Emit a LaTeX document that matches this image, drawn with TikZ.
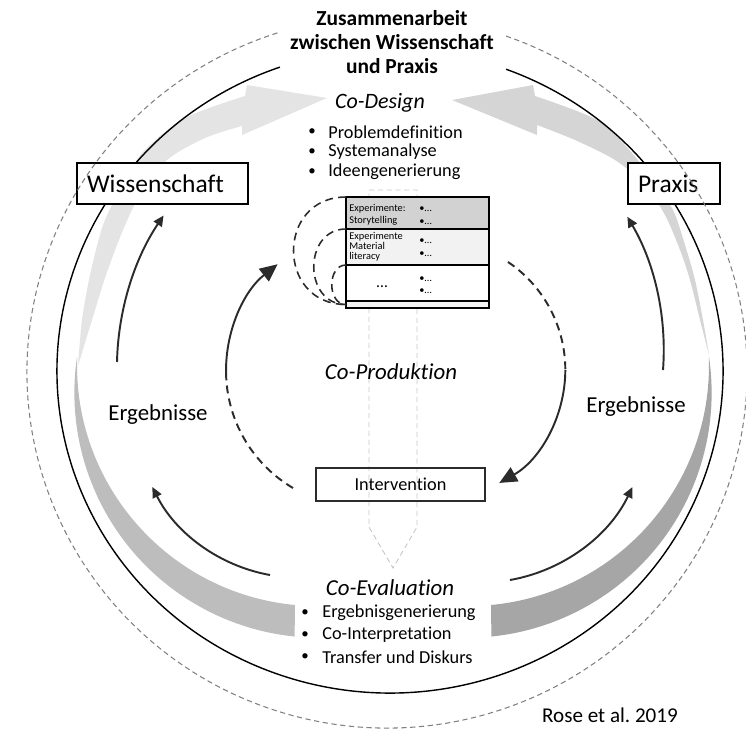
\documentclass[tikz,border=0pt]{standalone}
\usepackage{fontspec}
\setmainfont{Carlito}[Ligatures=NoCommon]
\usetikzlibrary{arrows.meta,positioning}
\frenchspacing

\definecolor{bandA}{HTML}{E4E4E4}
\definecolor{bandB}{HTML}{D5D5D5}
\definecolor{bandC}{HTML}{BDBDBD}
\definecolor{bandD}{HTML}{A6A6A6}
\definecolor{ink}{HTML}{2B2B2B}
\newcommand{\fsz}[2]{\fontsize{#1}{#2}\selectfont}

\begin{document}
\begin{tikzpicture}[x=0.02cm, y=-0.02cm,
    flow/.style={ink, line width=1.1pt, -{Triangle[length=6pt,width=5.5pt]}},
    bigflow/.style={ink, line width=1.1pt, -{Triangle[length=10pt,width=9pt]}},
    halfdash/.style={ink, line width=1.1pt, dash pattern=on 4.5pt off 3pt},
    labelbox/.style={draw, line width=0.8pt, fill=white, minimum height=0.82cm, inner sep=0pt, align=left, font=\fsz{14.5}{16}},
    rowcell/.style={draw, line width=1pt, minimum width=2.86cm, inner sep=0pt, outer sep=0pt},
    tabcell/.style={font=\fsz{5.9}{6.8}, align=left, anchor=west, inner sep=0pt},
    listitem/.style={font=\fsz{10.4}{12}, anchor=west, inner sep=0pt},
    listdot/.style={font=\fsz{8.5}{10}, inner sep=0pt},
    pencil/.style={draw=gray!45, line width=0.5pt, dash pattern=on 3pt off 2pt}]

    \useasboundingbox (0,0) rectangle (746,728);

    % grey bands
    \fill[bandA] plot[smooth] coordinates {(78,366) (82,320) (90,275) (103,225) (120,190) (142,153) (185,118) (245,96)}
        -- (247,85) -- (327,98) -- (242,135)
        -- plot[smooth] coordinates {(242,126) (205,138) (167,160) (140,195) (123,230) (106,275) (92,320) (78,366)} -- cycle;
    \fill[bandB] plot[smooth] coordinates {(709,355) (703,320) (695,280) (685,245) (673,210) (655,185) (632,153) (597,120) (535,96)}
        -- (533,85) -- (452,100) -- (537,135)
        -- plot[smooth] coordinates {(537,125) (575,140) (615,160) (645,185) (665,215) (680,250) (690,280) (700,320) (709,355)} -- cycle;
    \fill[bandC] (77,357) arc[start angle=188.4, end angle=95.8, radius=245] -- (295,605)
        arc[start angle=95.4, end angle=182, radius=240.6] -- cycle;
    \fill[bandD] (709,357) arc[start angle=-8.4, end angle=84.2, radius=245] -- (491,605)
        arc[start angle=84.6, end angle=-2, radius=240.6] -- cycle;

    \draw[pencil] (369,190) -- (417,190) -- (417,527) -- (393,568) -- (369,527) -- cycle;

    % rings
    \coordinate (ring) at (390,371);
    \draw[line width=0.8pt] (ring) ++(-69.6:333 and 322) arc[start angle=-69.6, end angle=250.7, x radius=333, y radius=322];

    \node[labelbox, minimum width=3.42cm, text width=3.02cm] (wiss) at (162.5,183.5) {Wissenschaft};
    \node[labelbox, minimum width=1.84cm, text width=1.44cm] (praxis) at (674,183.5) {Praxis};

    \coordinate (outer) at (387,372);
    \draw[gray, line width=0.6pt, dash pattern=on 3pt off 2pt] (outer) ++(-70.7:360 and 356) arc[start angle=-70.7, end angle=252.7, x radius=360, y radius=356];

    \node[font=\bfseries\fsz{12.2}{13.7}, align=center] (title) at (392,42) {Zusammenarbeit\\zwischen Wissenschaft\\und Praxis};

    % Co-Design
    \node[font=\itshape\fsz{12.5}{14}] (design) at (380,103) {Co-Design};
    \foreach \txt [count=\i] in {Problemdefinition, Systemanalyse, Ideengenerierung} {
        \node[listitem] (design\i) at (328,{112+20*\i}) {\txt};
        \node[listdot] (designdot\i) at (312,{112+20*\i}) {•};
    }

    % table
    \node[rowcell, fill=gray!35, minimum height=0.64cm] (row1) at (417.5,213) {};
    \node[rowcell, fill=gray!10, minimum height=0.72cm, below=0pt of row1] (row2) {};
    \node[rowcell, fill=white, minimum height=0.72cm, below=0pt of row2] (row3) {};
    \node[rowcell, fill=gray!10, minimum height=0.14cm, below=0pt of row3] (row4) {};

    \node[tabcell] (story) at (349,215) {Experimente:\\Storytelling};
    \node[tabcell, font=\fsz{5.9}{5.6}] (material) at (349,246.5) {Experimente\\Material\\literacy};
    \node[font=\fsz{9}{9}, inner sep=0pt] (more) at (382,287) {…};
    \foreach \y in {209,222,241,254,279,291}
        \node[tabcell] (pt\y) at (419,\y) {•…};

    \draw[halfdash, line width=0.9pt] (row1.north west) .. controls +(-70,0) and +(-70,0) .. (row4.west);
    \draw[halfdash, line width=0.9pt] (row2.north west) .. controls +(-43,0) and +(-43,0) .. (row4.west);
    \draw[halfdash, line width=0.9pt] (row3.north west) .. controls +(-19,0) and +(-19,0) .. (row4.west);

    % arrows
    \coordinate (outL) at (117,362);
    \draw[flow] (outL) arc[start angle=181.3, end angle=214, radius=273];
    \coordinate (outR) at (663,370);
    \draw[flow] (outR) arc[start angle=4.3, end angle=-30.5, radius=263];
    \coordinate (lowL) at (270,575);
    \draw[flow] (lowL) arc[start angle=100.2, end angle=153.4, radius=164];
    \coordinate (lowR) at (510,580);
    \draw[flow] (lowR) arc[start angle=80, end angle=25.6, radius=168];

    \coordinate (inL) at (293,488);
    \draw[halfdash] (inL) arc[start angle=120.5, end angle=176, radius=136] coordinate (inLm);
    \draw[bigflow] (inLm) arc[start angle=176, end angle=231.6, radius=136];
    \coordinate (inR) at (508,262);
    \draw[halfdash] (inR) arc[start angle=-56, end angle=0, radius=130] coordinate (inRm);
    \draw[bigflow] (inRm) arc[start angle=0, end angle=60.5, radius=130];

    % labels
    \node[font=\fsz{13}{15}] (ergL) at (158,415) {Ergebnisse};
    \node[font=\fsz{13}{15}] (ergR) at (636,407) {Ergebnisse};
    \node[font=\itshape\fsz{13}{15}] (prod) at (391,372) {Co-Produktion};
    \node[draw=ink, line width=0.6pt, minimum width=3.38cm, minimum height=0.66cm, inner sep=0pt, font=\fsz{10.4}{12}] (interv) at (400.5,484.5) {Intervention};

    % Co-Evaluation
    \node[font=\itshape\fsz{13}{15}] (eval) at (390,588) {Co-Evaluation};
    \foreach \txt [count=\i] in {Ergebnisgenerierung, Co-Interpretation, Transfer und Diskurs} {
        \node[listitem] (eval\i) at (322,{591+22*\i}) {\txt};
        \node[listdot] (evaldot\i) at (305,{591+22*\i}) {•};
    }

    \node[font=\fsz{12}{14}] (source) at (610,715) {Rose et al. 2019};
\end{tikzpicture}
\end{document}
